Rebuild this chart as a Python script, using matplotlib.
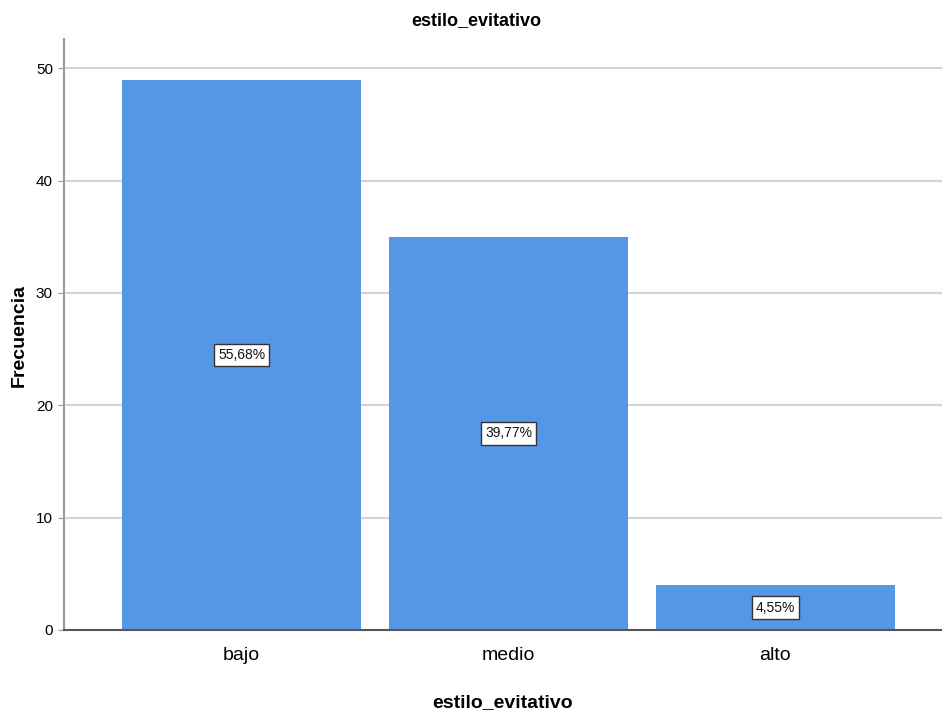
import matplotlib
matplotlib.use('Agg')
import matplotlib.pyplot as plt

# ─── Data ─────────────────────────────────────────────────────────────────────
categories = ['bajo', 'medio', 'alto']
counts = [49, 35, 4]
pct_labels = ['55,68%', '39,77%', '4,55%']
y_ticks = [0, 10, 20, 30, 40, 50]

plt.rcParams['font.family'] = ['Liberation Sans', 'DejaVu Sans']

fig = plt.figure(figsize=(9.42, 7.18), dpi=100)
ax = fig.add_axes([0.068, 0.1226, 0.932, 0.823])

x = list(range(len(categories)))
ax.bar(x, counts, width=0.895, color='#5596E6', edgecolor='none', zorder=2)

# percentage labels at half height of each bar
for xi, c, lab in zip(x, counts, pct_labels):
    ax.text(xi, c / 2, lab, ha='center', va='center', fontsize=10, color='#111111',
            zorder=4,
            bbox=dict(boxstyle='square,pad=0.3', facecolor='white',
                      edgecolor='#333333', linewidth=1.0))

ax.set_xlim(-0.665, 2.624)
ax.set_ylim(0, 52.6)
ax.set_xticks(x)
ax.set_xticklabels(categories, fontsize=14)
ax.set_yticks(y_ticks)
ax.set_yticklabels([str(t) for t in y_ticks], fontsize=11)
ax.tick_params(axis='x', length=0, pad=12)
ax.tick_params(axis='y', length=4, color='#999999', pad=4)

ax.yaxis.grid(True, color='#D4D4D4', linewidth=1.5, zorder=1)
ax.set_axisbelow(True)

for s in ['top', 'right']:
    ax.spines[s].set_visible(False)
ax.spines['left'].set_color('#999999')
ax.spines['left'].set_linewidth(1.5)
ax.spines['bottom'].set_color('#555555')
ax.spines['bottom'].set_linewidth(1.5)
ax.spines['bottom'].set_zorder(3)

ax.set_xlabel('estilo_evitativo', fontsize=14, fontweight='bold', labelpad=22)
fig.text(0.02, 0.533, 'Frecuencia', rotation=90, ha='center', va='center',
         fontsize=14, fontweight='bold')
fig.text(0.506, 0.972, 'estilo_evitativo', ha='center', va='center',
         fontsize=13, fontweight='bold')

fig.savefig('out.png', dpi=100)
